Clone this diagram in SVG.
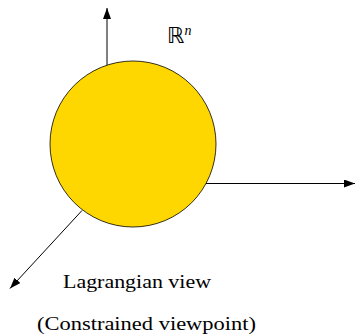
<svg xmlns="http://www.w3.org/2000/svg" width="355" height="336" viewBox="0 0 355 336">
<style>
.ax{stroke:#000;stroke-width:1;fill:none}
.t{font-family:"Liberation Serif","DejaVu Serif",serif;fill:#000}
</style>
<defs>
<marker id="ah" markerWidth="11" markerHeight="8" refX="11" refY="4" orient="auto" markerUnits="userSpaceOnUse">
<path d="M0,0 L11,4 L0,8 Z" fill="#000"/>
</marker>
</defs>
<g id="connectors">
<line class="ax" x1="107" y1="68" x2="107" y2="8" marker-end="url(#ah)"/>
<line class="ax" x1="205" y1="183.5" x2="355" y2="183.5" marker-end="url(#ah)"/>
<line class="ax" x1="82" y1="210.5" x2="10" y2="288.5" marker-end="url(#ah)"/>
</g>
<g id="sphere">
<circle cx="133" cy="144" r="83" fill="#FFD700" stroke="#000" stroke-width="0.8"/>
</g>
<g id="label-rn">
<text x="167" y="43" font-size="22" font-family="DejaVu Sans, sans-serif" fill="#000">ℝ<tspan font-family="Liberation Serif, serif" font-style="italic" font-size="14" dy="-8">n</tspan></text>
</g>
<g id="label-lagrangian">
<text class="t" x="63" y="288" font-size="18" textLength="148" lengthAdjust="spacingAndGlyphs">Lagrangian view</text>
<text class="t" x="37" y="330" font-size="18" textLength="219" lengthAdjust="spacingAndGlyphs">(Constrained viewpoint)</text>
</g>
</svg>
